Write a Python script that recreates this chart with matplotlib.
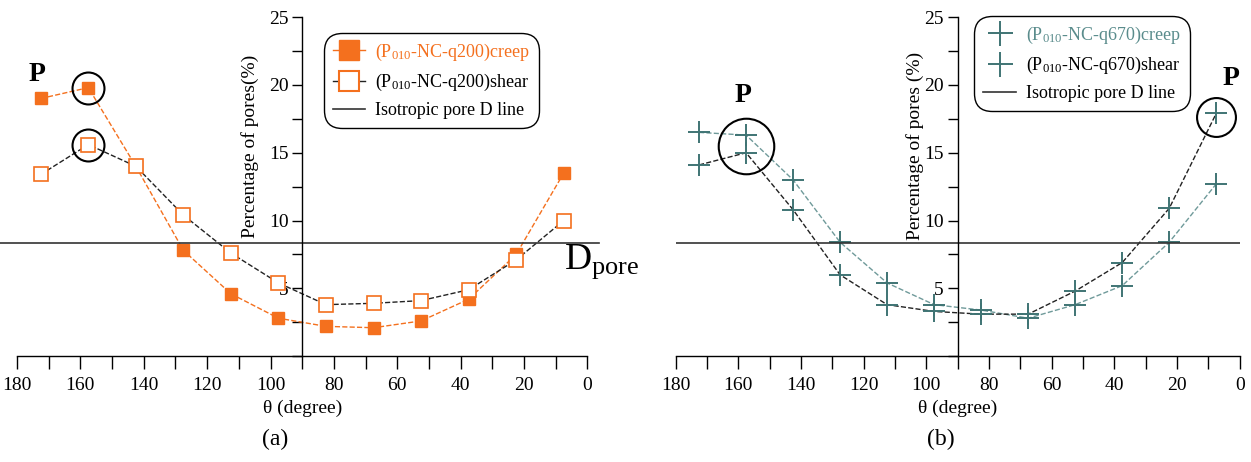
import matplotlib.pyplot as plt
from matplotlib.lines import Line2D
from matplotlib.ticker import MultipleLocator, FixedLocator

plt.rcParams['font.family'] = ['Liberation Serif', 'DejaVu Serif']
plt.rcParams['mathtext.fontset'] = 'custom'
plt.rcParams['mathtext.rm'] = 'Liberation Serif'
plt.rcParams['mathtext.it'] = 'Liberation Serif:italic'

# bin centres (degree) and percentage of pores
theta = [172.5, 157.5, 142.5, 127.5, 112.5, 97.5, 82.5, 67.5, 52.5, 37.5, 22.5, 7.5]
q200_creep = [19.0, 19.8, 14.0, 7.8, 4.6, 2.8, 2.2, 2.1, 2.6, 4.2, 7.5, 13.5]
q200_shear = [13.4, 15.6, 14.0, 10.4, 7.6, 5.4, 3.8, 3.9, 4.1, 4.9, 7.1, 10.0]
q670_creep = [16.5, 16.3, 13.0, 8.4, 5.4, 3.8, 3.4, 2.8, 3.8, 5.2, 8.4, 12.7]
q670_shear = [14.1, 15.0, 10.8, 6.0, 3.8, 3.3, 3.1, 3.1, 4.8, 6.9, 10.9, 17.9]
d_line = 100 / 12

# peaks marked with circles
circ_a = [(157.5, 19.8), (157.5, 15.6)]
circ_b = [(157.5, 15.5, 40), (7.5, 17.6, 28)]

orange = '#f4701e'
teal = '#3f7474'
teal_txt = '#5a8c8c'

fig = plt.figure(figsize=(12.51, 4.62), dpi=100)
ax1 = fig.add_axes([0.0136, 0.229, 0.456, 0.734])
ax2 = fig.add_axes([0.540, 0.229, 0.451, 0.734])


def style_axes(ax):
    ax.set_xlim(180, 0)
    ax.set_ylim(0, 25)
    ax.spines['left'].set_position(('data', 90))
    ax.spines['top'].set_visible(False)
    ax.spines['right'].set_visible(False)
    for s in ['left', 'bottom']:
        ax.spines[s].set_linewidth(1.0)
    ax.xaxis.set_major_locator(MultipleLocator(20))
    ax.xaxis.set_minor_locator(MultipleLocator(10))
    ax.yaxis.set_major_locator(FixedLocator([5, 10, 15, 20, 25]))
    ax.yaxis.set_minor_locator(MultipleLocator(2.5))
    ax.tick_params(axis='both', which='both', direction='out', labelsize=14)
    ax.tick_params(axis='x', which='both', length=9, width=1.0, pad=6)
    ax.tick_params(axis='y', which='both', length=7, width=1.0, pad=3)
    ax.set_xlabel('θ (degree)', fontsize=14, labelpad=4)
    ax.patch.set_alpha(0)


def style_legend(leg):
    fr = leg.get_frame()
    fr.set_linewidth(1.0)
    fr.set_boxstyle('round,pad=0,rounding_size=1.0')


style_axes(ax1)
style_axes(ax2)

# ---- panel (a)
ax1.plot(theta, q200_creep, ls='--', color=orange, lw=1.0, marker='s', ms=9,
         mfc=orange, mec=orange)
ax1.plot(theta, q200_shear, ls='--', color='#222222', lw=1.0, marker='s', ms=10,
         mfc='white', mec=orange, mew=1.2)
ax1.axhline(d_line, xmin=-0.03, xmax=1.02, color='#333333', lw=1.2, clip_on=False)
for cx, cy in circ_a:
    ax1.plot(cx, cy, marker='o', ms=23, mfc='none', mec='black', mew=1.5)
ax1.set_ylabel('Percentage of pores(%)', fontsize=14)
ax1.yaxis.set_label_coords(0.425, 0.62)
ax1.text(0.035, 0.83, 'P', transform=ax1.transAxes, fontsize=20,
         fontweight='bold', ha='center', va='center')

h1 = [Line2D([], [], color=orange, lw=1.0, marker='s', ms=15, mfc=orange, mec=orange),
      Line2D([], [], color='#222222', lw=1.0, marker='s', ms=15, mfc='white',
             mec=orange, mew=1.5),
      Line2D([], [], color='#333333', lw=1.2)]
leg1 = ax1.legend(h1, ['(P$_{\\mathrm{010}}$-NC-q200)creep',
                       '(P$_{\\mathrm{010}}$-NC-q200)shear',
                       'Isotropic pore D line'],
                  loc='upper left', bbox_to_anchor=(0.528, 0.97), fontsize=13,
                  frameon=True, fancybox=True, edgecolor='black', framealpha=1,
                  handlelength=1.8, handletextpad=0.55, borderpad=0.5,
                  borderaxespad=0.3, labelspacing=0.5)
style_legend(leg1)
leg1.get_texts()[0].set_color(orange)

# ---- panel (b)
ax2.plot(theta, q670_creep, ls='--', color='#6f9a9a', lw=1.0, marker='+', ms=16,
         mec=teal, mew=1.4)
ax2.plot(theta, q670_shear, ls='--', color='#222222', lw=1.0, marker='+', ms=16,
         mec=teal, mew=1.4)
ax2.axhline(d_line, color='#333333', lw=1.2)
for cx, cy, sz in circ_b:
    ax2.plot(cx, cy, marker='o', ms=sz, mfc='none', mec='black', mew=1.5)
ax2.set_ylabel('Percentage of pores (%)', fontsize=14)
ax2.yaxis.set_label_coords(0.44, 0.62)
ax2.text(0.12, 0.77, 'P', transform=ax2.transAxes, fontsize=20,
         fontweight='bold', ha='center', va='center')
ax2.text(0.985, 0.82, 'P', transform=ax2.transAxes, fontsize=20,
         fontweight='bold', ha='center', va='center')

h2 = [Line2D([], [], color=teal, lw=1.0, marker='+', ms=18, mec=teal, mew=1.4,
             ls='none'),
      Line2D([], [], color=teal, lw=1.0, marker='+', ms=18, mec=teal, mew=1.4,
             ls='none'),
      Line2D([], [], color='#333333', lw=1.2)]
leg2 = ax2.legend(h2, ['(P$_{\\mathrm{010}}$-NC-q670)creep',
                       '(P$_{\\mathrm{010}}$-NC-q670)shear',
                       'Isotropic pore D line'],
                  loc='upper left', bbox_to_anchor=(0.52, 1.02), fontsize=13,
                  frameon=True, fancybox=True, edgecolor='black', framealpha=1,
                  handlelength=1.8, handletextpad=0.55, borderpad=0.5,
                  borderaxespad=0.3, labelspacing=0.5)
style_legend(leg2)
leg2.get_texts()[0].set_color(teal_txt)

fig.text(0.481, 0.433, 'D$_{\\mathrm{pore}}$', fontsize=27, ha='center', va='center')
fig.text(0.220, 0.048, '(a)', fontsize=17, ha='center', va='center')
fig.text(0.752, 0.048, '(b)', fontsize=17, ha='center', va='center')

fig.savefig('out.png', dpi=100)
